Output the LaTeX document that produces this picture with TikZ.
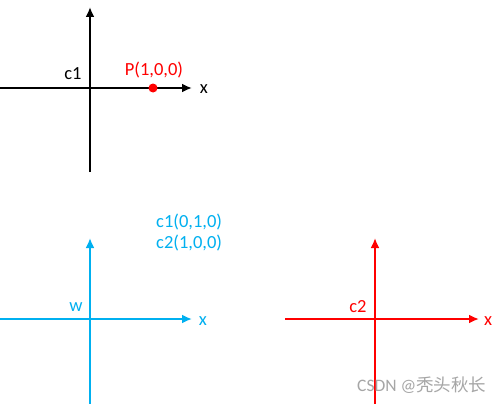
\documentclass[tikz,border=0pt]{standalone}
\usepackage{fontspec}
\setmainfont{Carlito}
\newfontfamily\cjk{Noto Sans CJK SC}
\usetikzlibrary{arrows.meta}
\definecolor{myblue}{RGB}{0,176,240}
\definecolor{myred}{RGB}{255,0,0}
\begin{document}
\begin{tikzpicture}[x=1pt,y=-1pt,
  axis/.style={line width=2.9pt,-{Latex[length=10pt,width=9pt]}},
  lbl/.style={inner sep=0pt,font=\fontsize{18.5}{21}\selectfont},
  dot/.style={circle,fill=myred,inner sep=0pt,minimum size=9pt}]
\useasboundingbox (0,0) rectangle (503,404);
\fill[white] (0,0) rectangle (503,404);
% black frame
\coordinate (b0) at (90,172);
\coordinate (b1) at (90,7);
\coordinate (b2) at (0,88);
\coordinate (b3) at (192,88);
\draw[axis,black] (b0) -- (b1);
\draw[axis,black] (b2) -- (b3);
\node[lbl] (c1) at (73,74) {c1};
\node[lbl,text=myred] (P) at (154,70) {P(1,0,0)};
\node[dot] (pd) at (153,88) {};
\node[lbl] (bx) at (204,89) {x};
% blue frame
\coordinate (u0) at (90,404);
\coordinate (u1) at (90,238);
\coordinate (u2) at (0,319);
\coordinate (u3) at (192,319);
\draw[axis,myblue] (u0) -- (u1);
\draw[axis,myblue] (u2) -- (u3);
\node[lbl,text=myblue] (w) at (76,307) {w};
\node[lbl,text=myblue] (ux) at (203,321) {x};
\node[lbl,text=myblue,anchor=west] (t1) at (156,222) {c1(0,1,0)};
\node[lbl,text=myblue,anchor=west] (t2) at (156,243) {c2(1,0,0)};
% red frame
\coordinate (r0) at (375,404);
\coordinate (r1) at (375,238);
\coordinate (r2) at (285,319);
\coordinate (r3) at (479,319);
\draw[axis,myred] (r0) -- (r1);
\draw[axis,myred] (r2) -- (r3);
\node[lbl,text=myred] (c2) at (358,307) {c2};
\node[lbl,text=myred] (rx) at (488,321) {x};
% watermark
\node[inner sep=0pt,text=black!35,font=\fontsize{17.5}{20}\selectfont,anchor=west] (wm) at (357,385) {CSDN @\cjk 秃头秋长};
\end{tikzpicture}
\end{document}
